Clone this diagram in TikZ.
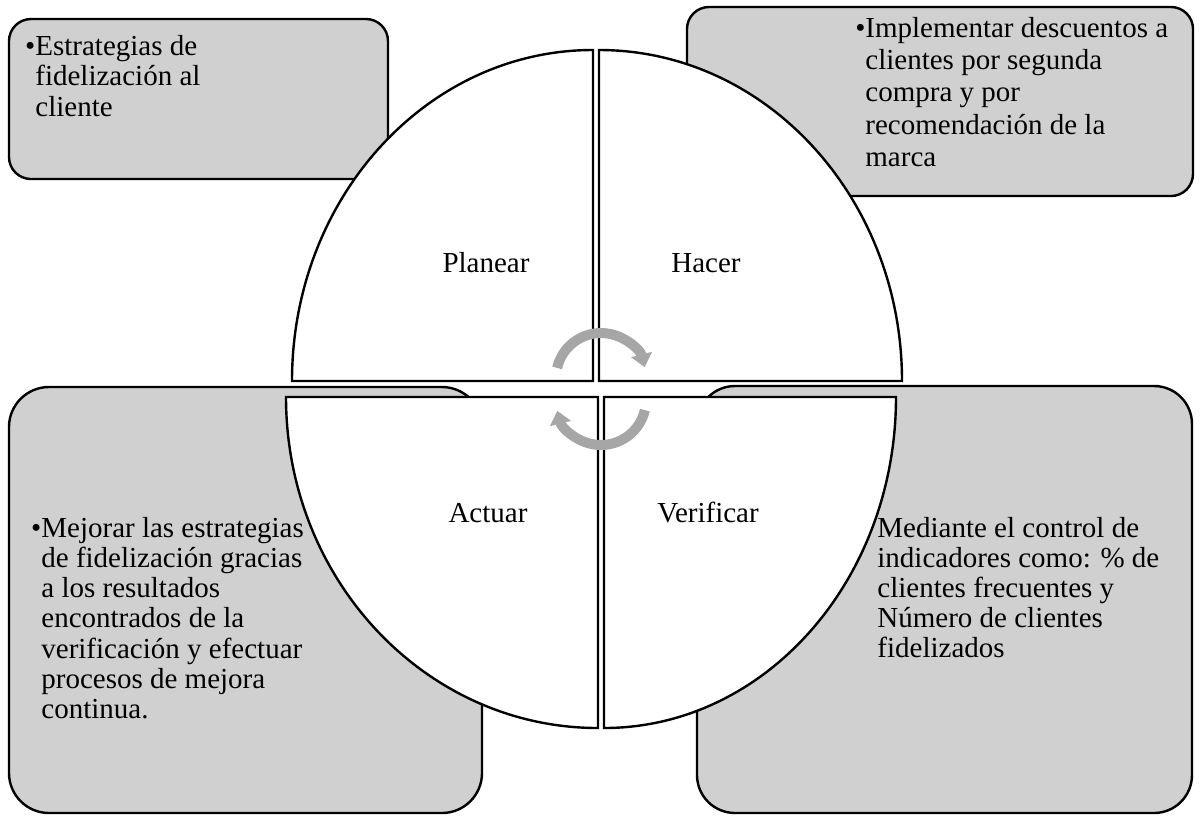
\documentclass[tikz,border=0pt]{standalone}
\usepackage{fontspec}
\setmainfont{Liberation Serif}
\usetikzlibrary{arrows.meta}
\definecolor{boxgray}{RGB}{208,208,208}
\definecolor{arrgray}{RGB}{166,166,166}
\newcommand{\bulletmark}{\leavevmode\llap{•}}
\begin{document}
\begin{tikzpicture}[x=0.5pt,y=-0.5pt,
  infobox/.style={draw=black, fill=boxgray, line width=1.2pt},
  quarter/.style={draw=black, fill=white, line width=1.2pt, line join=miter},
  cyc/.style={draw=arrgray, line width=5pt, -{Triangle[width=10.5pt,length=6.5pt]}},
  lbl/.style={anchor=base, inner sep=0pt, font=\fontsize{14.5pt}{15pt}\selectfont},
  txt/.style={anchor=base west, inner sep=0pt, font=\fontsize{14.5pt}{15pt}\selectfont}]
\useasboundingbox (0,0) rectangle (1200,816);
% outer boxes
\path[infobox, rounded corners=11pt] (9,19) rectangle (388,179);
\path[infobox, rounded corners=11pt] (687,7) rectangle (1193,196);
\path[infobox, rounded corners=20pt] (9,387) rectangle (482,813);
\path[infobox, rounded corners=19pt] (697,386) rectangle (1192,813);
% quarters
\path[quarter] (593,381) -- (292,381) arc[start angle=180, end angle=270, x radius=301, y radius=331] -- cycle;
\path[quarter] (599,381) -- (599,50) arc[start angle=270, end angle=360, x radius=303, y radius=331] -- cycle;
\path[quarter] (598,397) -- (286,397) arc[start angle=180, end angle=90, x radius=312, y radius=331] -- cycle;
\path[quarter] (604,397) -- (604,728) arc[start angle=90, end angle=0, x radius=292, y radius=331] -- cycle;
% cycle arrows
\draw[cyc] (601,378) ++(193:45) arc[start angle=193, end angle=346, radius=45];
\draw[cyc] (601,400) ++(13:45) arc[start angle=13, end angle=166, radius=45];
% quarter labels
\node[lbl] (plan) at (486,272) {Planear};
\node[lbl] (hac) at (706,272) {Hacer};
\node[lbl] (act) at (488,522) {Actuar};
\node[lbl] (ver) at (708,522) {Verificar};
% box texts
\node[txt] (t1) at (35,55) {\parbox[t]{250pt}{\raggedright\baselineskip=15.4pt
  \bulletmark Estrategias de\\fidelización al\\cliente}};
\node[txt] (t2) at (865,37) {\parbox[t]{250pt}{\raggedright\baselineskip=16.2pt
  \bulletmark Implementar descuentos a\\clientes por segunda\\compra y por\\recomendación de la\\marca}};
\node[txt] (t3) at (41,537) {\parbox[t]{250pt}{\raggedright\baselineskip=15.15pt
  \bulletmark Mejorar las estrategias\\de fidelización gracias\\a los resultados\\encontrados de la\\verificación y efectuar\\procesos de mejora\\continua.}};
\node[txt] (t4) at (877,537) {\parbox[t]{250pt}{\raggedright\baselineskip=15pt
  Mediante el control de\\indicadores como: \% de\\clientes frecuentes y\\Número de clientes\\fidelizados}};
\end{tikzpicture}
\end{document}
